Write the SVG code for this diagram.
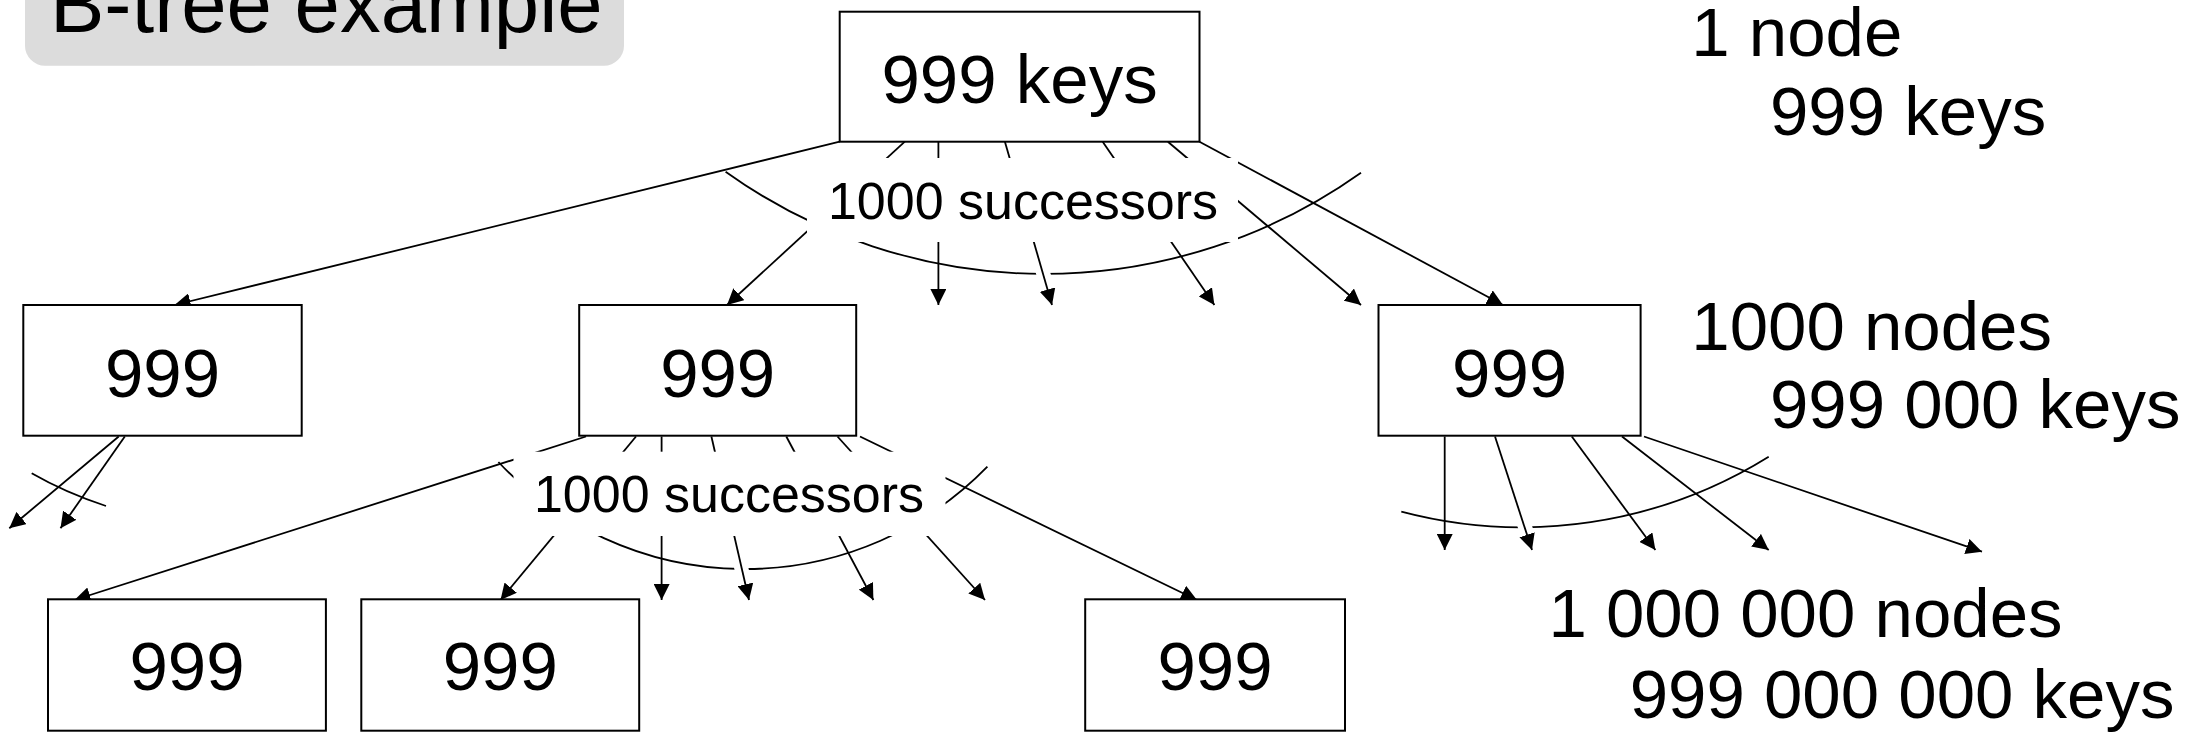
<svg xmlns="http://www.w3.org/2000/svg" width="2190" height="732" viewBox="0 0 2190 732">
<style>
.box{fill:#fff;stroke:#000;stroke-width:2}
.t{font-family:"Liberation Sans",Arial,Helvetica,sans-serif;fill:#000}
.big{font-size:69px}
.lbl{font-size:52px}
.mid{text-anchor:middle}
.ln{stroke:#000;stroke-width:1.8;fill:none}
.arr{marker-end:url(#ah)}
.halo{stroke:#fff;stroke-width:14;fill:none}
.cover{fill:#fff;stroke:none}
</style>
<defs>
<marker id="ah" viewBox="0 0 16 16" refX="16" refY="8" markerWidth="16" markerHeight="16" markerUnits="userSpaceOnUse" orient="auto">
<path d="M0,0 L16,8 L0,16 z" fill="#000"/>
</marker>
</defs>
<rect width="2190" height="732" fill="#fff"/>

<g id="title">
<rect x="25" y="-40" width="599" height="105.7" rx="20" ry="20" fill="#dcdcdc"/>
<text class="t" x="50" y="32.3" font-size="81.5">B-tree example</text>
</g>

<g id="connectors">
<!-- arcs -->
<path class="ln" d="M725.6,171.7 A547,547 0 0 0 1361,172.7"/>
<path class="ln" d="M498.4,462 A338,338 0 0 0 987.4,466.7"/>
<path class="ln" d="M1401.3,511.7 A468.7,468.7 0 0 0 1768.7,456.7"/>
<path class="ln" d="M31.7,473.3 Q66,493 106,506"/>
<!-- halos where arcs are broken -->
<line class="halo" x1="1039.3" y1="260" x2="1046.6" y2="285"/>
<line class="halo" x1="738.3" y1="555" x2="744" y2="580"/>
<line class="halo" x1="1521.1" y1="515" x2="1529.3" y2="540"/>
<!-- root successors -->
<line class="ln arr" x1="839.7" y1="141.7" x2="174.6" y2="305"/>
<line class="ln arr" x1="904.8" y1="141.7" x2="727" y2="305"/>
<line class="ln arr" x1="938.4" y1="141.7" x2="938.4" y2="305"/>
<line class="ln arr" x1="1004.9" y1="141.7" x2="1052" y2="305"/>
<line class="ln arr" x1="1102.7" y1="141.7" x2="1214.4" y2="305"/>
<line class="ln arr" x1="1167.9" y1="141.7" x2="1361" y2="305"/>
<line class="ln arr" x1="1199.5" y1="141.7" x2="1503" y2="305"/>
<!-- middle box successors -->
<line class="ln arr" x1="586" y1="436.5" x2="74.5" y2="600"/>
<line class="ln arr" x1="636" y1="436.5" x2="500.5" y2="600"/>
<line class="ln arr" x1="661.6" y1="436.5" x2="661.6" y2="600"/>
<line class="ln arr" x1="711.4" y1="436.5" x2="749" y2="600"/>
<line class="ln arr" x1="786.3" y1="436.5" x2="873.4" y2="600"/>
<line class="ln arr" x1="837.5" y1="436.5" x2="985" y2="600"/>
<line class="ln arr" x1="860" y1="436.5" x2="1197" y2="600"/>
<!-- left box successors -->
<line class="ln arr" x1="118.7" y1="436.5" x2="9.3" y2="528.3"/>
<line class="ln arr" x1="124.8" y1="436.5" x2="60.5" y2="528.3"/>
<!-- right box successors -->
<line class="ln arr" x1="1444.7" y1="436.5" x2="1444.7" y2="550"/>
<line class="ln arr" x1="1495" y1="436.5" x2="1532" y2="550"/>
<line class="ln arr" x1="1571.8" y1="436.5" x2="1655.4" y2="550"/>
<line class="ln arr" x1="1622" y1="436.5" x2="1768.7" y2="550"/>
<line class="ln arr" x1="1644" y1="436.5" x2="1982" y2="551.7"/>
</g>

<g id="label-root-successors">
<rect class="cover" x="807" y="158" width="431" height="84"/>
<text class="t lbl mid" x="1023" y="219">1000 successors</text>
</g>
<g id="label-mid-successors">
<rect class="cover" x="513.5" y="451.7" width="432" height="84.3"/>
<text class="t lbl mid" x="729" y="511.7">1000 successors</text>
</g>

<g id="root">
<rect class="box" x="839.7" y="11.7" width="359.8" height="130"/>
<text class="t big mid" x="1019.6" y="102.7">999 keys</text>
</g>
<g id="l2-left">
<rect class="box" x="23.3" y="305" width="278.4" height="130.7"/>
<text class="t big mid" x="162.5" y="396.7">999</text>
</g>
<g id="l2-mid">
<rect class="box" x="579.2" y="305" width="277" height="130.7"/>
<text class="t big mid" x="717.7" y="396.7">999</text>
</g>
<g id="l2-right">
<rect class="box" x="1378.5" y="305" width="262.1" height="130.7"/>
<text class="t big mid" x="1509.6" y="396.7">999</text>
</g>
<g id="l3-a">
<rect class="box" x="48" y="599.3" width="277.9" height="131.4"/>
<text class="t big mid" x="187" y="690">999</text>
</g>
<g id="l3-b">
<rect class="box" x="361.3" y="599.3" width="277.9" height="131.4"/>
<text class="t big mid" x="500.3" y="690">999</text>
</g>
<g id="l3-c">
<rect class="box" x="1085.2" y="599.3" width="259.8" height="131.4"/>
<text class="t big mid" x="1215" y="690">999</text>
</g>

<g id="level-counts">
<text class="t big" x="1691.3" y="56">1 node</text>
<text class="t big" x="1770" y="135">999 keys</text>
<text class="t big" x="1691.3" y="350">1000 nodes</text>
<text class="t big" x="1770" y="428.3">999 000 keys</text>
<text class="t big" x="1548.4" y="637.3">1 000 000 nodes</text>
<text class="t big" x="1629.7" y="718.3">999 000 000 keys</text>
</g>
</svg>
